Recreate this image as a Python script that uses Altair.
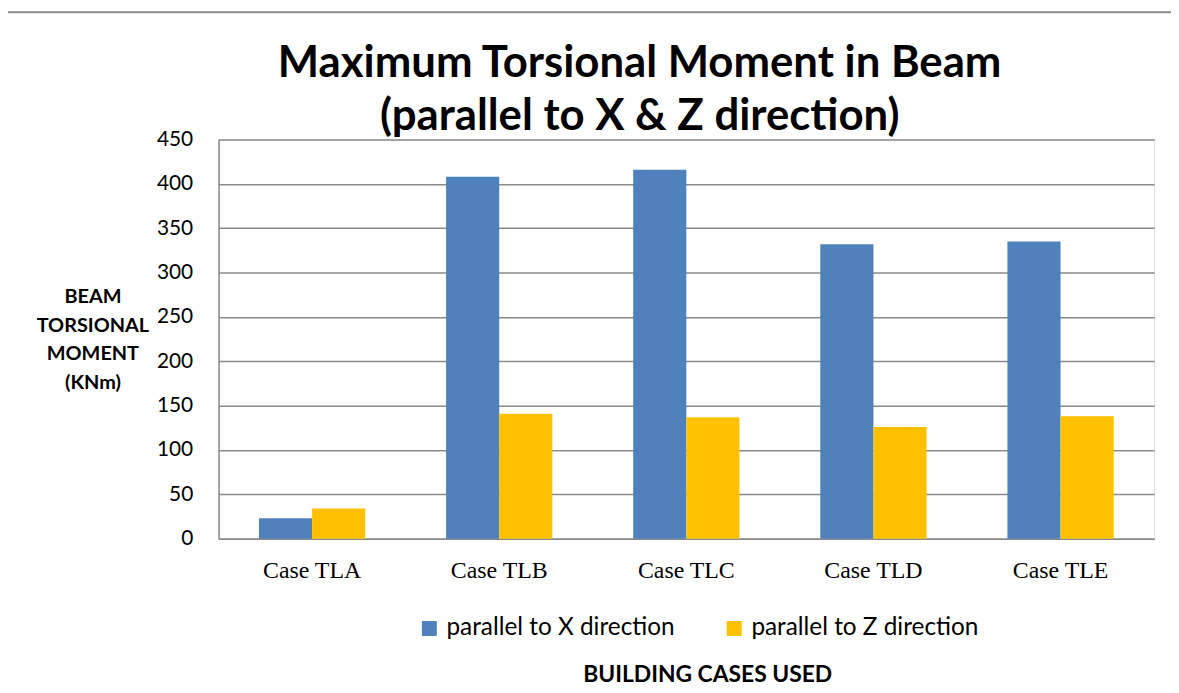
import altair as alt
import pandas as pd

cases = ["Case TLA", "Case TLB", "Case TLC", "Case TLD", "Case TLE"]
series = ["parallel to X direction", "parallel to Z direction"]
x_values = [23, 408, 416, 332, 335]
z_values = [34, 141, 137, 126, 138]
colors = ["#4F81BD", "#FFC000"]
y_ticks = [0, 50, 100, 150, 200, 250, 300, 350, 400, 450]
title_lines = ["Maximum Torsional Moment in Beam", "(parallel to X & Z direction)"]

rows = []
for c, xv, zv in zip(cases, x_values, z_values):
    rows.append({"case": c, "series": series[0], "value": xv})
    rows.append({"case": c, "series": series[1], "value": zv})
df = pd.DataFrame(rows)

bars = alt.Chart(df).mark_bar().encode(
    x=alt.X("case:N", sort=cases,
            scale=alt.Scale(paddingInner=0.432, paddingOuter=0.216),
            axis=alt.Axis(title="BUILDING CASES USED", titleFont="Lato", titleFontSize=23,
                          titleFontWeight="bold", titleColor="#000", titleY=137,
                          titleBaseline="middle", titleX=492,
                          labelFont="Liberation Serif", labelFontSize=24, labelColor="#000",
                          labelAngle=0, labelPadding=20, ticks=False,
                          domainColor="#8a8a8a", domainWidth=1.5)),
    xOffset=alt.XOffset("series:N", sort=series),
    y=alt.Y("value:Q", scale=alt.Scale(domain=[0, 450], nice=False),
            axis=alt.Axis(values=y_ticks, title=["BEAM", "TORSIONAL", "MOMENT", "(KNm)"],
                          titleAngle=0, titleAlign="center", titleBaseline="top",
                          titleX=-127, titleY=148, titleLineHeight=29,
                          titleFont="Lato", titleFontSize=20, titleFontWeight="bold",
                          titleColor="#000",
                          labelFont="Lato", labelFontSize=21, labelColor="#000",
                          labelPadding=26, ticks=False,
                          grid=True, gridColor="#8a8a8a", gridWidth=1.5,
                          domainColor="#8a8a8a", domainWidth=1.5)),
    color=alt.Color("series:N", sort=series,
                    scale=alt.Scale(domain=series, range=colors),
                    legend=alt.Legend(title=None, orient="none", direction="horizontal",
                                      legendX=200, legendY=480,
                                      symbolType="square", symbolSize=225,
                                      symbolStrokeWidth=0, labelLimit=0,
                                      labelFont="Lato", labelFontSize=24.5, labelColor="#000",
                                      labelOffset=5, columnPadding=47)),
)

one = pd.DataFrame({"k": [0]})
frame_left = alt.Chart(one).mark_rule(color="#8a8a8a", strokeWidth=2).encode(
    x=alt.value(-213), y=alt.value(-128), y2=alt.value(560))
frame_top = alt.Chart(one).mark_rule(color="#8a8a8a", strokeWidth=2).encode(
    x=alt.value(-213), x2=alt.value(980), y=alt.value(-128))

title1 = alt.Chart(one).mark_text(font="Lato", fontSize=44, fontWeight="bold", color="#000",
                                  align="center", baseline="alphabetic").encode(
    x=alt.value(424), y=alt.value(-63), text=alt.value(title_lines[0]))
title2 = alt.Chart(one).mark_text(font="Lato", fontSize=44, fontWeight="bold", color="#000",
                                  align="center", baseline="alphabetic").encode(
    x=alt.value(424), y=alt.value(-10), text=alt.value(title_lines[1]))

chart = alt.layer(frame_left, frame_top, bars, title1, title2).properties(
    width=942, height=402,
    autosize=alt.AutoSizeParams(type="none"),
    padding={"left": 212, "top": 130, "right": 17, "bottom": 160},
).configure_view(stroke=None).configure(background="white")

chart.save("out.html", embed_options={"renderer": "svg", "actions": False})
